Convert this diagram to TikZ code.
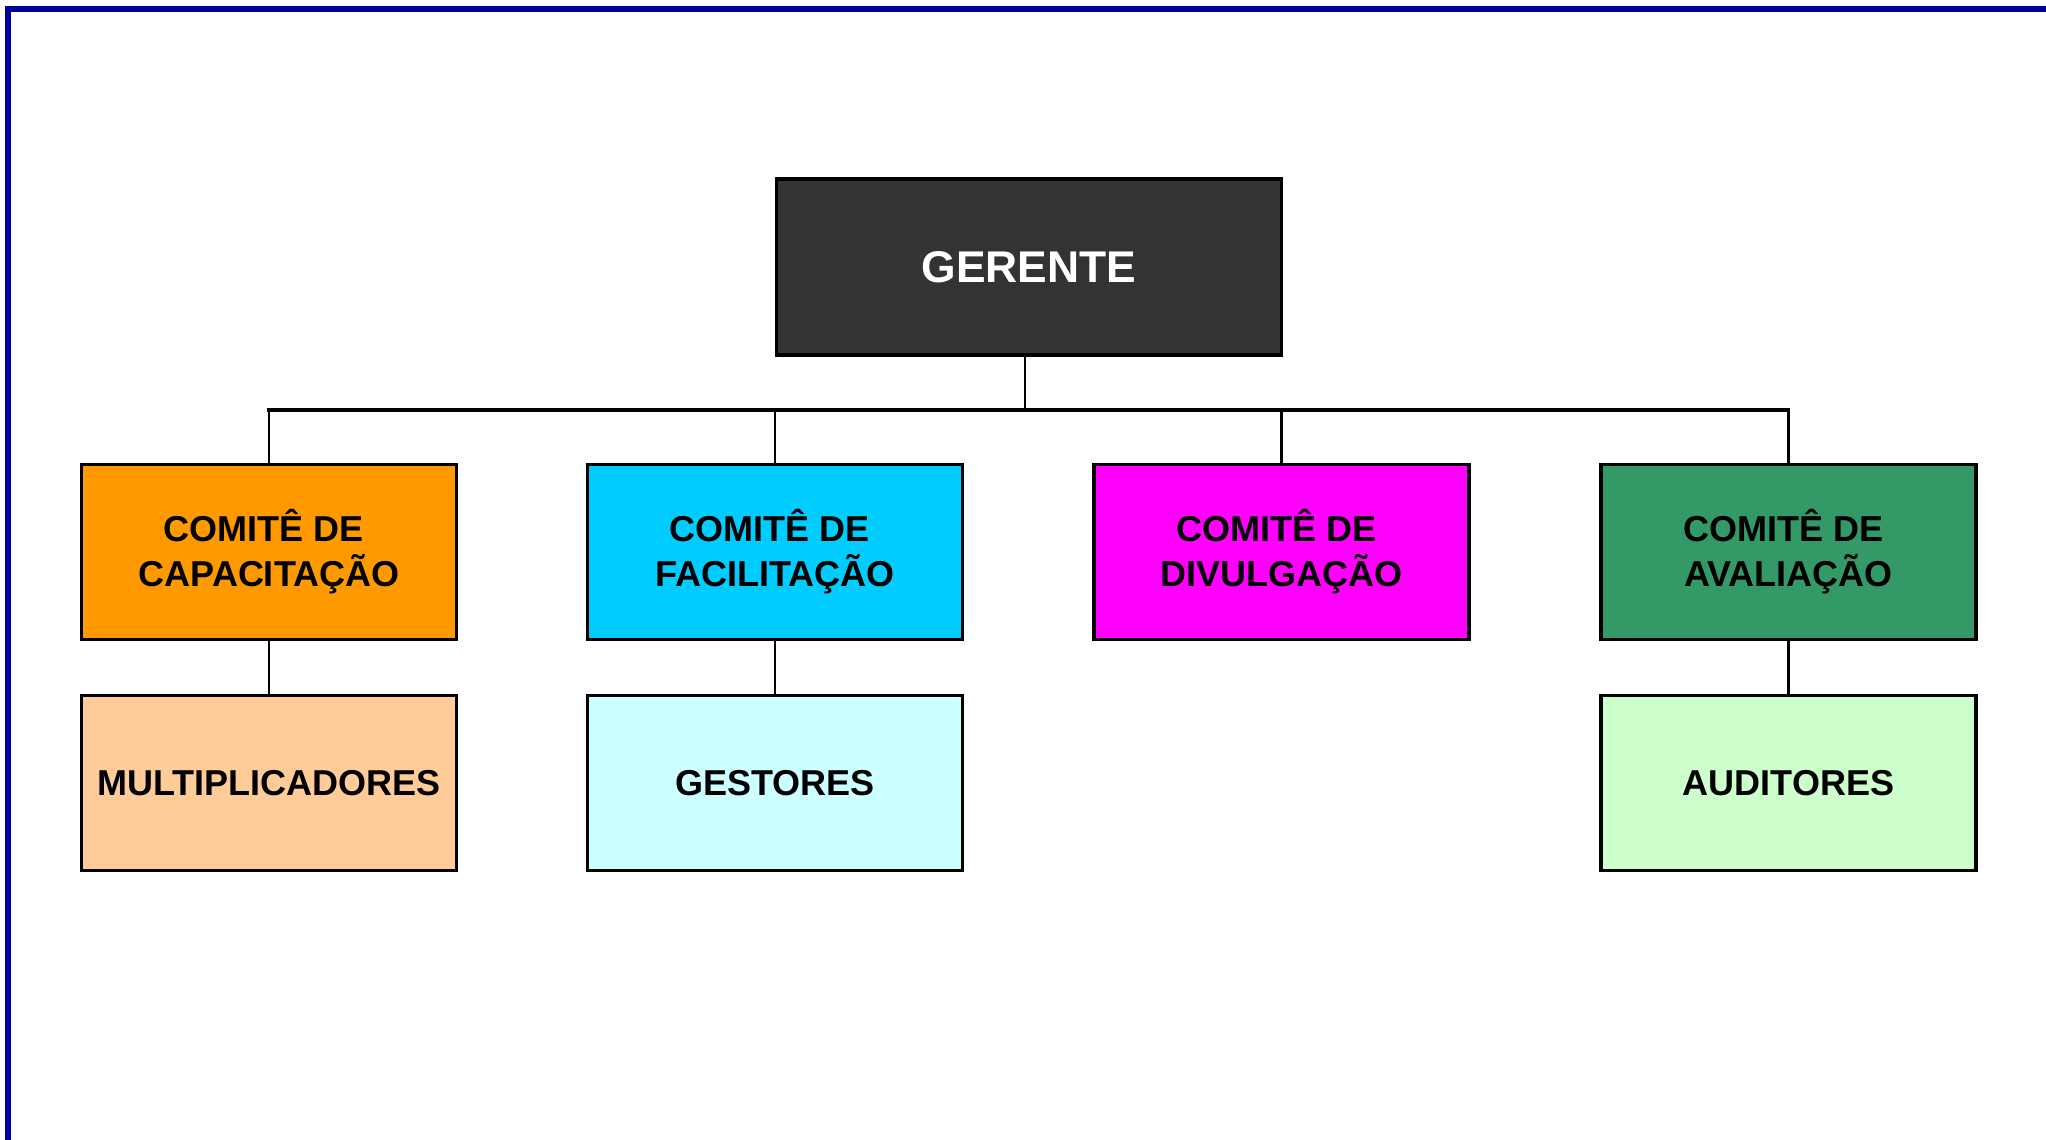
\documentclass[tikz,border=0pt]{standalone}
\usepackage{fontspec}
\setmainfont{Liberation Sans}
\definecolor{frameblue}{HTML}{000099}
\definecolor{gdark}{HTML}{333333}
\definecolor{corange}{HTML}{FF9900}
\definecolor{ccyan}{HTML}{00CCFF}
\definecolor{cmag}{HTML}{FF00FF}
\definecolor{cgreen}{HTML}{339966}
\definecolor{lpeach}{HTML}{FFCC99}
\definecolor{lcyan}{HTML}{CCFFFF}
\definecolor{lgreen}{HTML}{CCFFCC}
\begin{document}
\begin{tikzpicture}[x=0.5pt,y=-0.5pt,
  orgbox/.style={draw=black, line width=1.6pt, rectangle, inner sep=0pt,
    minimum width=187.5pt, minimum height=87.5pt, align=center,
    font=\fontsize{18}{22.5}\selectfont\bfseries},
  topbox/.style={orgbox, fill=gdark, text=white, minimum width=252.5pt,
    minimum height=88pt, font=\fontsize{22.2}{26}\selectfont\bfseries},
  bus/.style={line width=1.75pt, line cap=rect},
  drop/.style={line width=1.3pt}]
\useasboundingbox (0,0) rectangle (2046,1140);
\fill[white] (0,0) rectangle (2046,1140);
% frame
\draw[frameblue, line width=3pt] (8,1140) -- (8,9) -- (2046,9);
% nodes
\node[topbox] (g) at (1029,267) {GERENTE};
\node[orgbox, fill=corange] (c1) at (269,552) {COMITÊ DE\kern0.28em\\CAPACITAÇÃO};
\node[orgbox, fill=ccyan] (c2) at (775,552) {COMITÊ DE\kern0.28em\\FACILITAÇÃO};
\node[orgbox, fill=cmag] (c3) at (1281.5,552) {COMITÊ DE\kern0.28em\\DIVULGAÇÃO};
\node[orgbox, fill=cgreen] (c4) at (1788.5,552) {COMITÊ DE\kern0.28em\\AVALIAÇÃO};
\node[orgbox, fill=lpeach] (s1) at (269,783) {MULTIPLICADORES};
\node[orgbox, fill=lcyan] (s2) at (775,783) {GESTORES};
\node[orgbox, fill=lgreen] (s4) at (1788.5,783) {AUDITORES};
% connectors
\coordinate (b) at (1025,410);
\draw[drop] (g.south -| b) -- (b);
\draw[bus] (c1.north |- b) -- (c4.north |- b);
\foreach \n in {c1,c2,c3,c4}{\draw[drop] (\n.north) -- (\n.north |- b);}
\draw[drop] (c1.south) -- (s1.north);
\draw[drop] (c2.south) -- (s2.north);
\draw[drop] (c4.south) -- (s4.north);
\end{tikzpicture}
\end{document}
